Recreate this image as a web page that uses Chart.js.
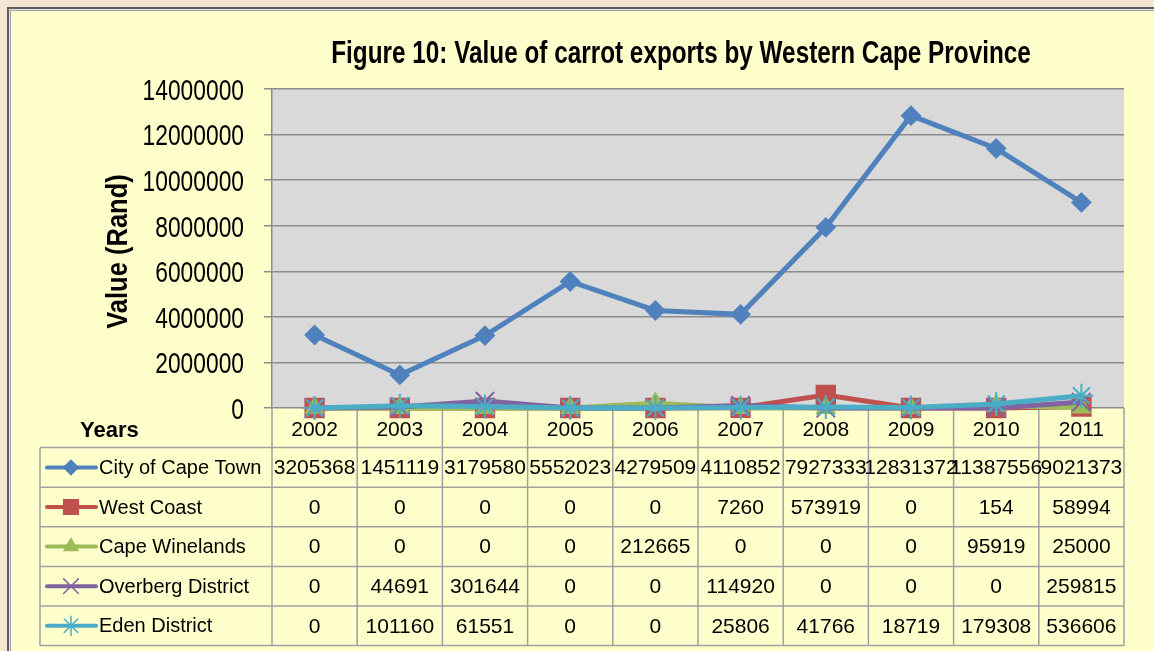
<!DOCTYPE html>
<html>
<head>
<meta charset="utf-8">
<title>Value of carrot exports by Western Cape Province</title>
<script src="https://cdn.jsdelivr.net/npm/chart.js@4.4.0/dist/chart.umd.min.js"></script>
<style>
html, body { margin: 0; padding: 0; }
body { width: 1154px; height: 651px; background: #f5e6d2; position: relative; overflow: hidden; }
#frame {
    position: absolute; left: 7px; top: 7px; width: 1160px; height: 660px;
    background: #ffffcc; border: 2px solid #5c5c5c;
    box-shadow: inset 1px 1px 0 #e4e4e4, inset 2px 2px 0 #a0a0a0;
}
#grafico { position: absolute; left: 0; top: 0; }
</style>
</head>
<body>
<div id="frame"></div>
<canvas id="grafico" width="1154" height="651"></canvas>
<script>
const years = ['2002', '2003', '2004', '2005', '2006', '2007', '2008', '2009', '2010', '2011'];
const cityOfCapeTown = [3205368, 1451119, 3179580, 5552023, 4279509, 4110852, 7927333, 12831372, 11387556, 9021373];
const westCoast = [0, 0, 0, 0, 0, 7260, 573919, 0, 154, 58994];
const capeWinelands = [0, 0, 0, 0, 212665, 0, 0, 0, 95919, 25000];
const overbergDistrict = [0, 44691, 301644, 0, 0, 114920, 0, 0, 0, 259815];
const edenDistrict = [0, 101160, 61551, 0, 0, 25806, 41766, 18719, 179308, 536606];
const yMin = 0;
const yMax = 14000000;
const yStep = 2000000;

const titulo = 'Figure 10: Value of carrot exports by Western Cape Province';
const tituloEjeY = 'Value (Rand)';
const FUENTE = "'Liberation Sans', Arial, sans-serif";

const series = [
    { label: 'City of Cape Town', data: cityOfCapeTown, color: '#4f81bd', style: 'rectRot', radius: 9 },
    { label: 'West Coast', data: westCoast, color: '#c0504d', style: 'rect', radius: 13 },
    { label: 'Cape Winelands', data: capeWinelands, color: '#9bbb59', style: 'triangle', radius: 10 },
    { label: 'Overberg District', data: overbergDistrict, color: '#8064a2', style: 'crossRot', radius: 13 },
    { label: 'Eden District', data: edenDistrict, color: '#4bacc6', style: 'star', radius: 12 }
];

// Texto "estrecho" (no hay Arial Narrow instalada): se comprime en horizontal
function textoEstrecho(ctx, texto, x, y, sx, align, rot) {
    ctx.save();
    ctx.translate(x, y);
    if (rot) ctx.rotate(rot);
    ctx.scale(sx, 1);
    ctx.textAlign = align;
    ctx.textBaseline = 'alphabetic';
    ctx.fillText(texto, 0, 0);
    ctx.restore();
}

// Fondo gris del área de trazado, títulos, etiquetas del eje y tabla de datos
const tablaPlugin = {
    id: 'tablaDatos',
    beforeDraw(chart) {
        const { ctx, chartArea } = chart;
        ctx.save();
        ctx.fillStyle = '#d9d9d9';
        ctx.fillRect(chartArea.left, chartArea.top, chartArea.right - chartArea.left, chartArea.bottom - chartArea.top);
        ctx.restore();
    },
    beforeDatasetsDraw(chart) {
        const { ctx, chartArea } = chart;
        const xScale = chart.scales.x;
        const yScale = chart.scales.y;
        const colW = (chartArea.right - chartArea.left) / years.length;
        const top = chartArea.bottom;
        const rowH = 39.6;
        const left = 40;
        const right = chartArea.right;
        const bottom = top + rowH * (series.length + 1);

        ctx.save();
        // etiquetas del eje Y
        ctx.fillStyle = '#000';
        ctx.font = '30px ' + FUENTE;
        yScale.ticks.forEach(t => {
            textoEstrecho(ctx, String(t.value), 244, yScale.getPixelForValue(t.value) + 10.8, 0.76, 'right');
        });

        ctx.strokeStyle = '#a0a0a0';
        ctx.lineWidth = 1.5;
        ctx.beginPath();
        for (let r = 1; r <= series.length + 1; r++) {
            const y = top + r * rowH;
            ctx.moveTo(left, y);
            ctx.lineTo(right, y);
        }
        ctx.moveTo(left, top + rowH);
        ctx.lineTo(left, bottom);
        for (let c = 0; c <= years.length; c++) {
            const xx = chartArea.left + c * colW;
            ctx.moveTo(xx, top);
            ctx.lineTo(xx, bottom);
        }
        ctx.stroke();

        ctx.fillStyle = '#000';
        ctx.textBaseline = 'middle';
        ctx.textAlign = 'left';
        ctx.font = 'bold 22px ' + FUENTE;
        ctx.fillText('Years', 80, top + rowH / 2 + 3);

        ctx.textAlign = 'center';
        ctx.font = '21px ' + FUENTE;
        years.forEach((yr, i) => {
            ctx.fillText(yr, xScale.getPixelForValue(i), top + rowH / 2 + 2);
        });

        series.forEach((s, r) => {
            const yc = top + rowH * (r + 1.5);
            // clave de la leyenda
            ctx.strokeStyle = s.color;
            ctx.fillStyle = s.color;
            ctx.lineWidth = 4;
            ctx.lineCap = 'round';
            ctx.beginPath();
            ctx.moveTo(47, yc);
            ctx.lineTo(96, yc);
            ctx.stroke();
            ctx.lineWidth = 1.5;
            Chart.helpers.drawPoint(ctx, { pointStyle: s.style, radius: s.radius * 0.8, borderWidth: 1.5, rotation: 0 }, 71, yc);

            ctx.fillStyle = '#000';
            ctx.textAlign = 'left';
            ctx.font = '20px ' + FUENTE;
            ctx.fillText(s.label, 99, yc + 1);
            ctx.textAlign = 'center';
            ctx.font = '21px ' + FUENTE;
            s.data.forEach((v, i) => {
                ctx.fillText(String(v), xScale.getPixelForValue(i), yc + 1);
            });
        });
        ctx.restore();
    },
    afterDraw(chart) {
        const { ctx } = chart;
        ctx.save();
        ctx.fillStyle = '#000';
        ctx.font = 'bold 32px ' + FUENTE;
        textoEstrecho(ctx, titulo, 681, 62.5, 0.76, 'center');
        ctx.font = 'bold 29px ' + FUENTE;
        textoEstrecho(ctx, tituloEjeY, 127, 251.5, 0.88, 'center', -Math.PI / 2);
        ctx.restore();
    }
};

const ctx = document.getElementById('grafico');

new Chart(ctx, {
    type: 'line',
    data: {
        labels: years,
        datasets: series.map((s, i) => ({
            label: s.label,
            data: s.data,
            borderColor: s.color,
            backgroundColor: s.color,
            borderWidth: 5,
            tension: 0,
            pointStyle: s.style,
            pointRadius: s.radius,
            pointHoverRadius: s.radius,
            pointBorderWidth: 2,
            pointBackgroundColor: s.color,
            pointBorderColor: s.color,
            clip: false,
            order: series.length - i
        }))
    },
    options: {
        responsive: false,
        animation: false,
        layout: {
            padding: { top: 89, right: 30, bottom: 243, left: 0 }
        },
        plugins: {
            legend: { display: false },
            title: { display: false },
            tooltip: { enabled: false }
        },
        scales: {
            x: {
                type: 'category',
                display: false,
                offset: true
            },
            y: {
                min: yMin,
                max: yMax,
                afterFit: function(scale) {
                    scale.width = 272;
                },
                ticks: {
                    display: false,
                    stepSize: yStep
                },
                grid: {
                    color: '#8c8c8c',
                    lineWidth: 1.5,
                    tickLength: 8
                },
                border: {
                    display: true,
                    color: '#8c8c8c',
                    width: 1.5
                }
            }
        }
    },
    plugins: [tablaPlugin]
});
</script>
</body>
</html>
